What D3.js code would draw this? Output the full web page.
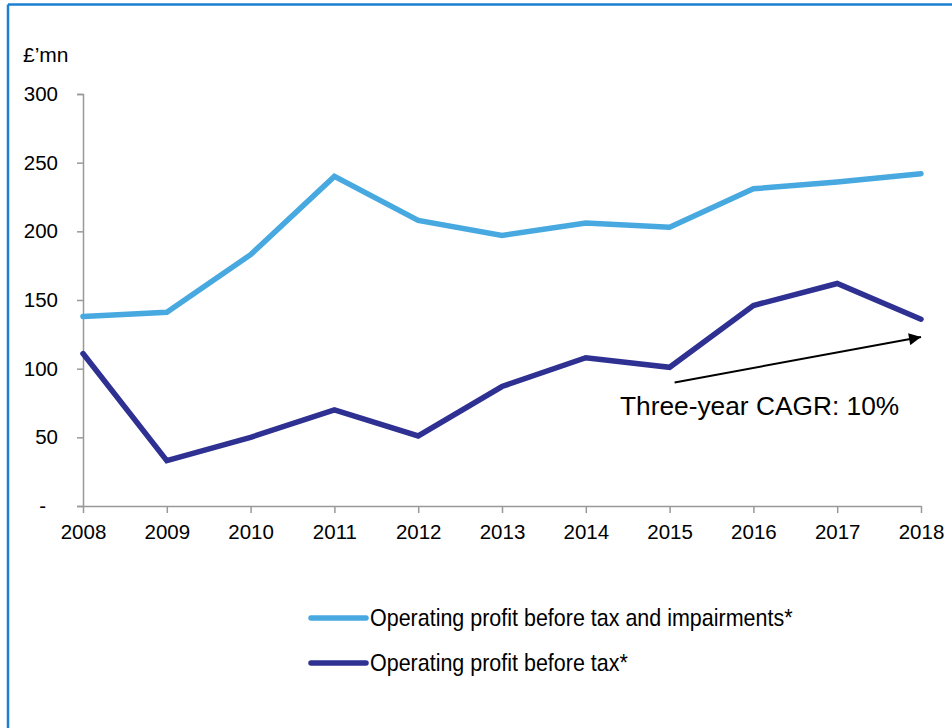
<!DOCTYPE html>
<html>
<head>
<meta charset="utf-8">
<script src="https://cdn.jsdelivr.net/npm/d3@7"></script>
<style>
  html, body { margin: 0; padding: 0; background: #fff; }
  svg { display: block; font-family: "Liberation Sans", Arial, sans-serif; }
  .axis path, .axis line { stroke: #999; stroke-width: 1.5; }
  .axis text { fill: #000; font-size: 20.5px; }
</style>
</head>
<body>
<svg id="chart" width="952" height="728"></svg>
<script>
const years = [2008, 2009, 2010, 2011, 2012, 2013, 2014, 2015, 2016, 2017, 2018]
const profitBeforeImpairments = [138, 141, 183, 240, 208, 197, 206, 203, 231, 236, 242]
const profitBeforeTax = [111, 33, 50, 70, 51, 87, 108, 101, 146, 162, 136]
const yTicks = [0, 50, 100, 150, 200, 250, 300]
const seriesNames = ["Operating profit before tax and impairments*", "Operating profit before tax*"]
const seriesColors = ["#47a9e0", "#2e3192"]
// arrow annotation: [year, value] start and end
const cagrArrow = [[2015.06, 90], [2018, 123]]
const cagrLabel = "Three-year CAGR: 10%"

const svg = d3.select("#chart")

/* frame round the chart (only top and left edges are visible) */
svg.append("line").attr("x1", 8).attr("y1", 4.5).attr("x2", 952).attr("y2", 4.5)
  .attr("stroke", "#1b7fd2").attr("stroke-width", 2.5)
svg.append("line").attr("x1", 8).attr("y1", 4.5).attr("x2", 8).attr("y2", 728)
  .attr("stroke", "#1b7fd2").attr("stroke-width", 2.5)

const x = d3.scaleLinear()
  .domain([2008, 2018])
  .range([83, 921])

const y = d3.scaleLinear()
  .domain([0, 300])
  .range([506, 94])

/* axes */
const yAxis = svg.append("g")
  .attr("class", "axis")
  .attr("transform", "translate(83,0)")
  .call(d3.axisLeft(y)
    .tickValues(yTicks)
    .tickSize(6)
    .tickSizeOuter(6)
    .tickPadding(19)
    .tickFormat(d => d === 0 ? "-" : d))
yAxis.selectAll(".tick text").filter(d => d === 0).attr("dx", -12)

svg.append("g")
  .attr("class", "axis")
  .attr("transform", "translate(0,506)")
  .call(d3.axisBottom(x)
    .tickValues(years)
    .tickSize(7)
    .tickSizeOuter(0)
    .tickPadding(11)
    .tickFormat(d3.format("d")))

svg.append("text")
  .attr("x", 23).attr("y", 62)
  .style("font-size", "21px")
  .text("£’mn")

/* lines */
const line = d3.line()
  .x(d => x(d[0]))
  .y(d => y(d[1]))

const series = [profitBeforeImpairments, profitBeforeTax]
series.forEach((vals, i) => {
  svg.append("path")
    .datum(years.map((yr, j) => [yr, vals[j]]))
    .attr("fill", "none")
    .attr("stroke", seriesColors[i])
    .attr("stroke-width", 5.5)
    .attr("stroke-linejoin", "miter")
    .attr("stroke-linecap", "round")
    .attr("d", line)
})

/* annotation arrow */
svg.append("defs").append("marker")
  .attr("id", "arrowhead")
  .attr("viewBox", "0 0 10 10")
  .attr("refX", 10).attr("refY", 5)
  .attr("markerWidth", 7).attr("markerHeight", 6)
  .attr("markerUnits", "strokeWidth")
  .attr("orient", "auto")
  .append("path")
  .attr("d", "M0,0 L10,5 L0,10 Z")
  .attr("fill", "#000")

svg.append("line")
  .attr("x1", x(cagrArrow[0][0])).attr("y1", y(cagrArrow[0][1]))
  .attr("x2", x(cagrArrow[1][0])).attr("y2", y(cagrArrow[1][1]))
  .attr("stroke", "#000")
  .attr("stroke-width", 2)
  .attr("marker-end", "url(#arrowhead)")

svg.append("text")
  .attr("x", 620).attr("y", 415)
  .style("font-size", "26.3px")
  .text(cagrLabel)

/* legend */
const legend = svg.append("g")
seriesNames.forEach((name, i) => {
  const ly = 618 + i * 45
  legend.append("line")
    .attr("x1", 311).attr("x2", 366)
    .attr("y1", ly).attr("y2", ly)
    .attr("stroke", seriesColors[i])
    .attr("stroke-width", 5.5)
    .attr("stroke-linecap", "round")
  legend.append("text")
    .attr("transform", `translate(370,${ly + 8}) scale(0.895,1)`)
    .style("font-size", "24px")
    .text(name)
})
</script>
</body>
</html>
